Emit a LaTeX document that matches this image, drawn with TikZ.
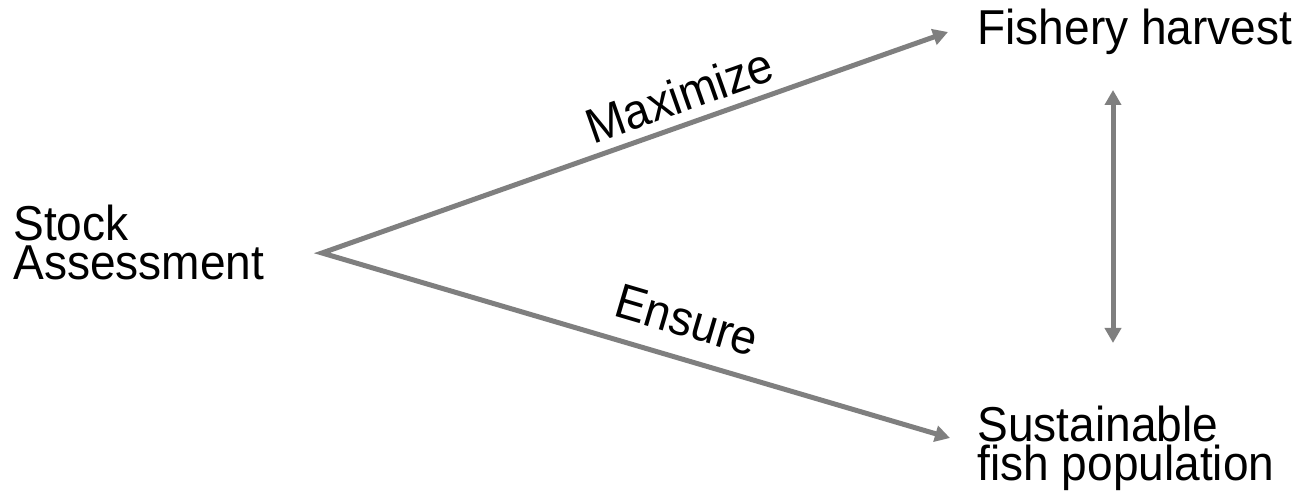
\documentclass[tikz,border=0pt]{standalone}
\usepackage{fontspec}
\setmainfont[FakeStretch = 0.94]{Liberation Sans}
\usetikzlibrary{arrows.meta}
\definecolor{linkgray}{RGB}{127,127,127}
\begin{document}
\begin{tikzpicture}[x = 0.5pt, y = -0.5pt,
    link/.style = {draw = linkgray, line width = 2.5pt, line join = miter,
      {Triangle[length = 7.5pt, width = 8pt]}-{Triangle[length = 7.5pt, width = 8pt]}},
    word/.style = {inner sep = 0pt, align = left, font = \fontsize{24.5}{19.5}\selectfont}]
  \useasboundingbox (0, 0) rectangle (1313, 501);
  \def\tipx{948}
  \def\midx{1113}
  \node[word, anchor = north west] (stock) at (13, 204.5) {Stock\\Assessment};
  \node[word, anchor = base west] (harvest) at (977, 45) {Fishery harvest};
  \node[word, anchor = north west] (population) at (977, 405.5) {Sustainable\\fish population};
  \coordinate (apex) at (322, 253);
  \coordinate (harvesttip) at (\tipx, 32);
  \coordinate (populationtip) at ({\tipx + 2}, 438);
  \coordinate (harvestend) at (\midx, 90);
  \coordinate (populationend) at (\midx, 343);
  \draw[link] (harvesttip) -- node[word, pos = .413, sloped, above = 4.6pt]{Maximize} (apex)
    -- node[word, pos = .564, sloped, above = 9.6pt]{Ensure} (populationtip);
  \draw[link] (harvestend) -- (populationend);
\end{tikzpicture}
\end{document}
